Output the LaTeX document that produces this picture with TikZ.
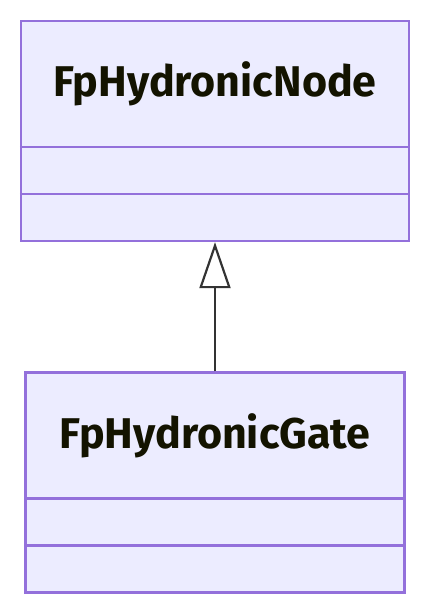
\documentclass[tikz,border=0pt]{standalone}
\usepackage{fontspec}
\setmainfont{Fira Sans}
\usetikzlibrary{arrows.meta}
\definecolor{umlfill}{HTML}{ECECFF}
\definecolor{umlborder}{HTML}{9370DB}
\definecolor{umlline}{HTML}{333333}
\definecolor{umltext}{HTML}{131300}
\begin{document}
\begin{tikzpicture}[x=1pt,y=-1pt,
    classbox/.style={draw=umlborder, fill=umlfill, line width=2.4pt, inner sep=0pt, minimum height=220pt},
    classname/.style={text=umltext, font=\fontsize{43}{50}\selectfont\bfseries, inner sep=0pt},
    divider/.style={draw=umlborder, line width=2.2pt}]
    \useasboundingbox (0,0) rectangle (430,614);
    % upper class
    \node[classbox, minimum width=388pt](node)at(215, 131){};
    \node[classname](nodename)at(215, 84){FpHydronicNode};
    \draw[divider](node.west |- 0, 147)--(node.east |- 0, 147);
    \draw[divider](node.west |- 0, 194)--(node.east |- 0, 194);
    % lower class
    \node[classbox, minimum width=379pt](gate)at(215, 482.5){};
    \node[classname](gatename)at(215, 435.5){FpHydronicGate};
    \draw[divider](gate.west |- 0, 498.5)--(gate.east |- 0, 498.5);
    \draw[divider](gate.west |- 0, 545.5)--(gate.east |- 0, 545.5);
    % inheritance
    \draw[umlline, line width=2.2pt, -{Triangle[open, length=46pt, width=31pt]}](gate.north)--(node.south);
\end{tikzpicture}
\end{document}
